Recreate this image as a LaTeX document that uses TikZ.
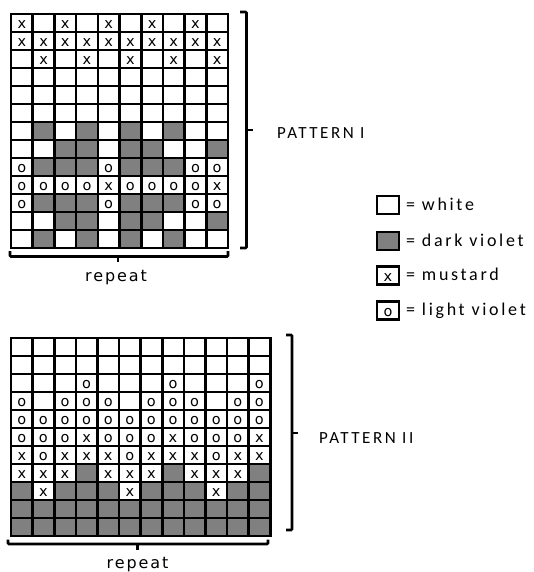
\documentclass[tikz,border=0pt]{standalone}
\usepackage{fontspec}
\newfontfamily\cellfontfam{DejaVu Sans}
\newfontfamily\lblfontfam[LetterSpace=15]{Carlito}
\newfontfamily\repfontfam[LetterSpace=12]{DejaVu Sans}
\definecolor{darkcell}{RGB}{128,128,128}
\newcommand\cellsymW{}
\newcommand\cellsymD{}
\newcommand\cellsymX{x}
\newcommand\cellsymO{o}
\tikzset{
  cell/.style={draw=black, line width=2.6pt, minimum width=21.7pt, minimum height=18pt,
    inner sep=0pt, outer sep=0pt, text height=11.5pt, text depth=0pt,
    font=\cellfontfam\fontsize{14.5}{15}\selectfont},
  cellW/.style={cell, fill=white},
  cellD/.style={cell, fill=darkcell},
  cellX/.style={cell, fill=white},
  cellO/.style={cell, fill=white},
  cellII/.style={minimum width=21.6pt},
  bracket/.style={draw=black, line width=2.6pt, rounded corners=1pt},
  lbl/.style={inner sep=0pt, font=\lblfontfam\fontsize{17}{20}\selectfont},
  leglbl/.style={inner sep=0pt, anchor=base west, font=\lblfontfam\fontsize{18}{21}\selectfont},
  replbl/.style={inner sep=0pt, anchor=base, font=\repfontfam\fontsize{16}{19}\selectfont},
}
\begin{document}
\begin{tikzpicture}[x=1pt,y=-1pt]
\useasboundingbox (0,0) rectangle (533,572);
% Pattern I
\foreach \cells [count=\r] in {
  {X,W,X,W,X,W,X,W,X,W},
  {X,X,X,X,X,X,X,X,X,X},
  {W,X,W,X,W,X,W,X,W,X},
  {W,W,W,W,W,W,W,W,W,W},
  {W,W,W,W,W,W,W,W,W,W},
  {W,W,W,W,W,W,W,W,W,W},
  {W,D,W,D,W,D,W,D,W,W},
  {W,W,D,D,W,D,D,W,W,D},
  {O,D,D,D,O,D,D,D,O,O},
  {O,O,O,O,X,O,O,O,O,X},
  {O,D,D,D,O,D,D,D,O,O},
  {W,W,D,D,W,D,D,W,W,D},
  {W,D,W,D,W,D,W,D,W,W}} {
  \foreach \v [count=\c] in \cells {
    \node[cell\v] (pI-\r-\c) at ({11+(\c-0.5)*21.7},{14+(\r-0.5)*18}) {\csname cellsym\v\endcsname};
  }
}
% Pattern II
\foreach \cells [count=\r] in {
  {W,W,W,W,W,W,W,W,W,W,W,W},
  {W,W,W,W,W,W,W,W,W,W,W,W},
  {W,W,W,O,W,W,W,O,W,W,W,O},
  {O,W,O,O,O,W,O,O,O,W,O,O},
  {O,O,O,O,O,O,O,O,O,O,O,O},
  {O,O,O,X,O,O,O,X,O,O,O,X},
  {X,O,X,X,X,O,X,X,X,O,X,X},
  {X,X,X,D,X,X,X,D,X,X,X,D},
  {D,X,D,D,D,X,D,D,D,X,D,D},
  {D,D,D,D,D,D,D,D,D,D,D,D},
  {D,D,D,D,D,D,D,D,D,D,D,D}} {
  \foreach \v [count=\c] in \cells {
    \node[cell\v, cellII] (pII-\r-\c) at ({11+(\c-0.5)*21.6},{338+(\r-0.5)*18}) {\csname cellsym\v\endcsname};
  }
}
% brackets Pattern I
\draw[bracket] (240,12) -- (246.5,12) -- (246.5,248) -- (240,248);
\draw[bracket] (246.5,130) -- (253,130);
\draw[bracket] (10,251) -- (10,256.5) -- (228,256.5) -- (228,251);
\draw[bracket] (118,256.5) -- (118,262);
% brackets Pattern II
\draw[bracket] (286,335) -- (292,335) -- (292,530) -- (286,530);
\draw[bracket] (292,433) -- (298,433);
\draw[bracket] (8,539.5) -- (8,544) -- (268,544) -- (268,539.5);
\draw[bracket] (137.5,544) -- (137.5,550);
% labels
\node[lbl, anchor=base west] (labI) at (277,138.3) {PATTERN I};
\node[lbl, anchor=base west] (labII) at (319,443.3) {PATTERN II};
\node[replbl] (repI) at (116,281) {repeat};
\node[replbl] (repII) at (137.5,568) {repeat};
% legend
\node[cellW] (legW) at (388,205) {};
\node[cellD] (legD) at (388,241) {};
\node[cellX] (legX) at (388,275.5) {x};
\node[cellO] (legO) at (388,310.5) {o};
\node[leglbl] (txtW) at (406,210) {= white};
\node[leglbl] (txtD) at (406,246) {= dark violet};
\node[leglbl] (txtX) at (406,280.5) {= mustard};
\node[leglbl] (txtO) at (406,315.5) {= light violet};
\end{tikzpicture}
\end{document}
